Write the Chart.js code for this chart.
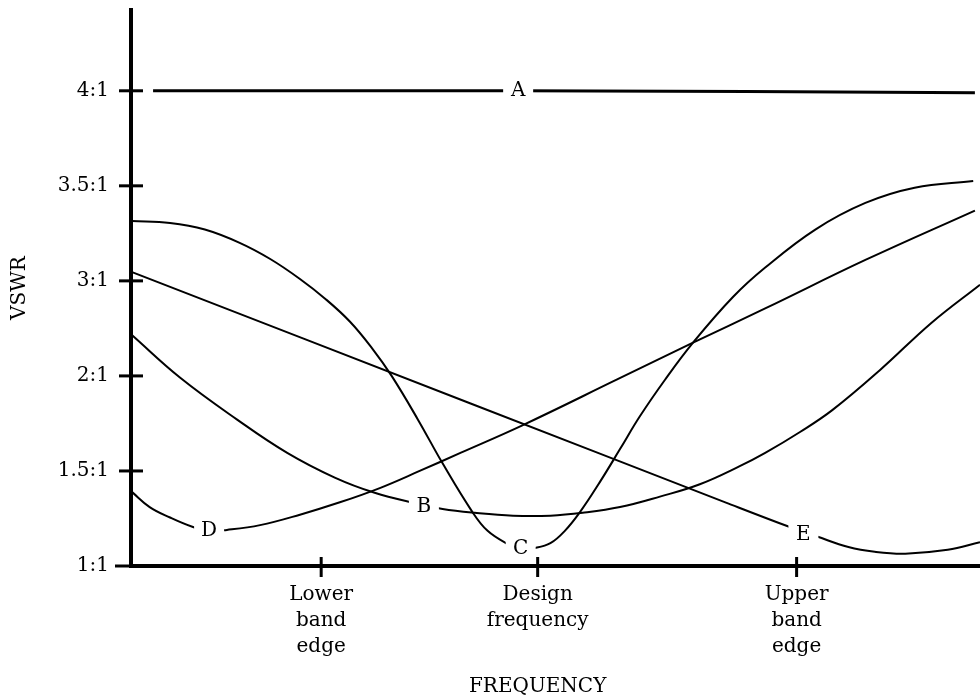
<!DOCTYPE html>
<html>
<head>
<meta charset="utf-8">
<script src="https://cdn.jsdelivr.net/npm/chart.js@4"></script>
<style>
  body { margin: 0; background: #fff; }
  #wrap { width: 980px; height: 700px; }
</style>
</head>
<body>
<div id="wrap"><canvas id="vswr"></canvas></div>
<script>
// y axis is evenly spaced per label, not linear in VSWR
const yTickLabels = ['1:1', '1.5:1', '2:1', '3:1', '3.5:1', '4:1'];
const xTickValues = [22.4, 47.9, 78.4];
const xTickLabels = [['Lower', 'band', 'edge'], ['Design', 'frequency'], ['Upper', 'band', 'edge']];
const xTitle = 'FREQUENCY';

// curve A - flat at 4:1
const freqA = [2.6, 45.6, 99.4];
const vswrA = [5.0, 5.0, 4.98];

// curve B - broad U
const freqB = [0.1, 5.8, 12.5, 18.4, 24.0, 28.7, 33.5, 36.7, 40.5, 45.0, 49.4, 53.2, 57.6, 62.3, 67.0, 71.7, 74.7, 78.8, 82.6, 88.2, 94.3, 100];
const vswrB = [2.43, 1.98, 1.54, 1.19, 0.93, 0.77, 0.66, 0.60, 0.56, 0.53, 0.53, 0.56, 0.62, 0.73, 0.86, 1.05, 1.19, 1.41, 1.64, 2.06, 2.56, 2.96];

// curve C - narrow dip at design frequency
const freqC = [0.1, 4.6, 8.7, 12.8, 16.4, 19.9, 22.9, 25.8, 28.4, 30.7, 33.8, 36.7, 40.2, 42.0, 44.4, 45.9, 47.6, 49.4, 51.1, 52.9, 55.2, 57.6, 59.9, 62.9, 66.2, 70.9, 74.7, 80.6, 86.5, 92.3, 99.2];
const vswrC = [3.63, 3.61, 3.54, 3.40, 3.23, 3.02, 2.81, 2.57, 2.29, 2.00, 1.54, 1.08, 0.57, 0.37, 0.23, 0.18, 0.19, 0.24, 0.37, 0.57, 0.88, 1.23, 1.57, 1.96, 2.35, 2.83, 3.14, 3.54, 3.82, 3.98, 4.05];

// curve D
const freqD = [0.1, 2.2, 4.6, 7.3, 9.2, 11.3, 15.2, 19.9, 24.6, 29.3, 34.0, 38.8, 46.1, 57.2, 66.2, 74.7, 86.5, 99.4];
const vswrD = [0.78, 0.62, 0.51, 0.41, 0.37, 0.38, 0.43, 0.54, 0.67, 0.82, 1.00, 1.19, 1.48, 1.96, 2.35, 2.71, 3.22, 3.74];

// curve E - straight fall then a shallow dip
const freqE = [0.2, 40, 70, 77.6, 80.8, 84.5, 87.6, 91.2, 96.2, 100];
const vswrE = [3.09, 1.71, 0.67, 0.41, 0.31, 0.2, 0.15, 0.13, 0.17, 0.25];

const curveLabels = [
    { text: 'A', x: 45.6, y: 5.0 },
    { text: 'B', x: 34.5, y: 0.62 },
    { text: 'C', x: 45.9, y: 0.18 },
    { text: 'D', x: 9.2, y: 0.37 },
    { text: 'E', x: 79.2, y: 0.33 }
];

const serif = 'DejaVu Serif';

function pts(xs, ys) {
    return xs.map((x, i) => ({ x: x, y: ys[i] }));
}

function curve(xs, ys, width) {
    return {
        data: pts(xs, ys),
        borderColor: '#000',
        borderWidth: width,
        pointRadius: 0,
        fill: false,
        tension: 0.4
    };
}

// ticks crossing the axis lines, like the printed figure
const crossTicks = {
    id: 'crossTicks',
    afterDraw(chart) {
        const ctx = chart.ctx;
        const area = chart.chartArea;
        const xs = chart.scales.x, ys = chart.scales.y;
        ctx.save();
        ctx.strokeStyle = '#000';
        ctx.lineWidth = 3;
        ys.ticks.forEach(t => {
            const py = ys.getPixelForValue(t.value);
            ctx.beginPath();
            ctx.moveTo(area.left - (t.value === 0 ? 16 : 12), py);
            ctx.lineTo(area.left + 12, py);
            ctx.stroke();
        });
        xs.ticks.forEach(t => {
            const px = xs.getPixelForValue(t.value);
            ctx.beginPath();
            ctx.moveTo(px, area.bottom - 9);
            ctx.lineTo(px, area.bottom + 11);
            ctx.stroke();
        });
        // axis title sits under the design frequency mark
        ctx.fillStyle = '#000';
        ctx.font = '20px "' + serif + '"';
        ctx.textAlign = 'center';
        ctx.textBaseline = 'middle';
        ctx.fillText(xTitle, xs.getPixelForValue(xTickValues[1]), chart.height - 13);
        ctx.restore();
    }
};

const letterLabels = {
    id: 'letterLabels',
    afterDatasetsDraw(chart) {
        const ctx = chart.ctx;
        const xs = chart.scales.x, ys = chart.scales.y;
        ctx.save();
        ctx.font = '20px "' + serif + '"';
        ctx.textAlign = 'center';
        ctx.textBaseline = 'middle';
        curveLabels.forEach(l => {
            const px = xs.getPixelForValue(l.x);
            const py = ys.getPixelForValue(l.y);
            ctx.fillStyle = '#fff';
            ctx.fillRect(px - 15, py - 11, 30, 22);
            ctx.fillStyle = '#000';
            ctx.fillText(l.text, px, py);
        });
        ctx.restore();
    }
};

new Chart(document.getElementById('vswr'), {
    type: 'line',
    data: {
        datasets: [
            curve(freqA, vswrA, 3),
            curve(freqB, vswrB, 2),
            curve(freqC, vswrC, 2),
            curve(freqD, vswrD, 2),
            curve(freqE, vswrE, 2)
        ]
    },
    options: {
        responsive: true,
        maintainAspectRatio: false,
        animation: false,
        layout: { padding: { top: 10, left: 0, right: 0, bottom: 0 } },
        plugins: {
            legend: { display: false },
            tooltip: { enabled: false }
        },
        scales: {
            x: {
                type: 'linear',
                min: 0,
                max: 100,
                afterBuildTicks: s => { s.ticks = xTickValues.map(v => ({ value: v })); },
                afterFit: s => {
                    s.height = 134;
                    s.paddingLeft = 0;
                    s.paddingRight = 0;
                },
                grid: { drawOnChartArea: false, drawTicks: false },
                border: { display: true, color: '#000', width: 4 },
                ticks: {
                    color: '#000',
                    padding: 16,
                    autoSkip: false,
                    maxRotation: 0,
                    font: { family: serif, size: 20, lineHeight: 1.3 },
                    callback: (v, i) => xTickLabels[i]
                }
            },
            y: {
                type: 'linear',
                min: 0,
                max: 5.85,
                afterBuildTicks: s => { s.ticks = yTickLabels.map((_, i) => ({ value: i })); },
                afterFit: s => {
                    s.width = 131;
                    s.paddingTop = 0;
                    s.paddingBottom = 0;
                },
                grid: { drawOnChartArea: false, drawTicks: false },
                border: { display: true, color: '#000', width: 4 },
                ticks: {
                    color: '#000',
                    padding: 22,
                    autoSkip: false,
                    font: { family: serif, size: 20 },
                    callback: (v, i) => yTickLabels[i]
                },
                title: {
                    display: true,
                    text: 'VSWR',
                    color: '#000',
                    font: { family: serif, size: 20 },
                    padding: { top: 8, bottom: 0 }
                }
            }
        }
    },
    plugins: [crossTicks, letterLabels]
});
</script>
</body>
</html>
